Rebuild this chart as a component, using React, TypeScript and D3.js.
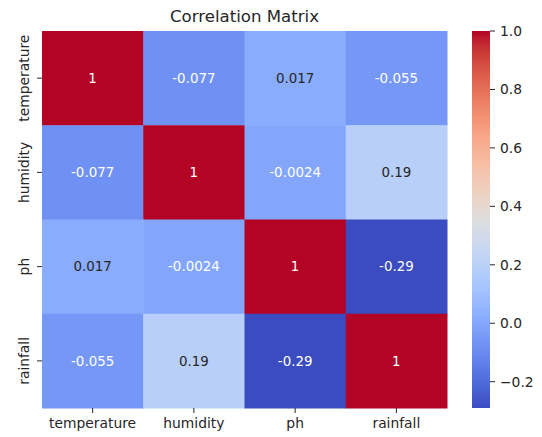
import React from "react";
import * as d3 from "d3";

const labels = ["temperature", "humidity", "ph", "rainfall"];
const rowTemperature = [1, -0.077, 0.017, -0.055];
const rowHumidity = [-0.077, 1, -0.0024, 0.19];
const rowPh = [0.017, -0.0024, 1, -0.29];
const rowRainfall = [-0.055, 0.19, -0.29, 1];
const matrix = [rowTemperature, rowHumidity, rowPh, rowRainfall];
const cbarTicks = [-0.2, 0, 0.2, 0.4, 0.6, 0.8, 1.0];
const title = "Correlation Matrix";

// coolwarm (Moreland) control points
const coolwarmStops: [number, number, number][] = [
  [59, 76, 192], [68, 90, 204], [77, 104, 215], [87, 117, 225], [98, 130, 234],
  [108, 142, 241], [119, 154, 247], [130, 165, 251], [141, 176, 254], [152, 185, 255],
  [163, 194, 255], [174, 201, 253], [184, 208, 249], [194, 213, 244], [204, 217, 238],
  [213, 219, 230], [221, 221, 221], [229, 216, 209], [236, 211, 197], [241, 204, 185],
  [245, 196, 173], [247, 187, 160], [247, 177, 148], [247, 166, 135], [244, 154, 123],
  [241, 141, 111], [236, 127, 99], [229, 112, 88], [222, 96, 77], [213, 80, 66],
  [203, 62, 56], [192, 40, 47], [180, 4, 38],
];
const coolwarm = d3.interpolateRgbBasis
  ? d3.piecewise(d3.interpolateRgb, coolwarmStops.map((c) => d3.rgb(c[0], c[1], c[2]).toString()))
  : (t: number) => "#000";

function luminance(color: string) {
  const c = d3.rgb(color);
  const f = (v: number) => {
    const s = v / 255;
    return s <= 0.03928 ? s / 12.92 : Math.pow((s + 0.055) / 1.055, 2.4);
  };
  return 0.2126 * f(c.r) + 0.7152 * f(c.g) + 0.0722 * f(c.b);
}

const W = 542, H = 437;
const hmLeft = 42, hmRight = 447, hmTop = 31, hmBottom = 408;
const cbLeft = 472, cbRight = 490;
const FONT = "DejaVu Sans, sans-serif";
const TXT = "#262626";

export default function App() {
  const flat = matrix.flat();
  const vmin = d3.min(flat) as number;
  const vmax = d3.max(flat) as number;
  const norm = d3.scaleLinear().domain([vmin, vmax]).range([0, 1]).clamp(true);
  const color = (v: number) => coolwarm(norm(v));

  const x = d3.scaleBand().domain(labels).range([hmLeft, hmRight]);
  const y = d3.scaleBand().domain(labels).range([hmTop, hmBottom]);
  const cy = d3.scaleLinear().domain([vmin, vmax]).range([hmBottom, hmTop]);

  const gradStops = d3.range(0, 1.0001, 0.02);

  return (
    <svg width={W} height={H} style={{ position: "absolute", left: 0, top: 0 }} fontFamily={FONT}>
      <rect width={W} height={H} fill="#fff" />
      <defs>
        <linearGradient id="cbgrad" x1="0" y1="1" x2="0" y2="0">
          {gradStops.map((t) => (
            <stop key={t} offset={t} stopColor={coolwarm(t)} />
          ))}
        </linearGradient>
      </defs>
      <text x={(hmLeft + hmRight) / 2} y={22} textAnchor="middle" fontSize={16.6} fill={TXT}>
        {title}
      </text>
      {matrix.map((row, i) =>
        row.map((v, j) => {
          const c = color(v);
          const dark = luminance(c) > 0.408;
          return (
            <g key={`${i}-${j}`}>
              <rect
                x={x(labels[j])}
                y={y(labels[i])}
                width={x.bandwidth() + 0.5}
                height={y.bandwidth() + 0.5}
                fill={c}
              />
              <text
                x={(x(labels[j]) as number) + x.bandwidth() / 2}
                y={(y(labels[i]) as number) + y.bandwidth() / 2}
                dy="0.36em"
                textAnchor="middle"
                fontSize={13.4}
                fill={dark ? TXT : "#ffffff"}
              >
                {String(v)}
              </text>
            </g>
          );
        })
      )}
      {labels.map((l) => {
        const cx = (x(l) as number) + x.bandwidth() / 2;
        return (
          <g key={"x" + l}>
            <line x1={cx} x2={cx} y1={hmBottom} y2={hmBottom + 5} stroke={TXT} strokeWidth={1} />
            <text x={cx} y={428} textAnchor="middle" fontSize={13.85} fill={TXT}>
              {l}
            </text>
          </g>
        );
      })}
      {labels.map((l) => {
        const cyy = (y(l) as number) + y.bandwidth() / 2;
        return (
          <g key={"y" + l}>
            <line x1={hmLeft - 5} x2={hmLeft} y1={cyy} y2={cyy} stroke={TXT} strokeWidth={1} />
            <text
              transform={`translate(29,${cyy}) rotate(-90)`}
              textAnchor="middle"
              fontSize={13.85}
              fill={TXT}
            >
              {l}
            </text>
          </g>
        );
      })}
      <rect x={cbLeft} y={hmTop} width={cbRight - cbLeft} height={hmBottom - hmTop} fill="url(#cbgrad)" />
      {cbarTicks.map((t) => (
        <g key={"c" + t}>
          <line x1={cbRight} x2={cbRight + 5} y1={cy(t)} y2={cy(t)} stroke={TXT} strokeWidth={1} />
          <text x={cbRight + 10} y={cy(t)} dy="0.36em" fontSize={13.85} fill={TXT}>
            {t < 0 ? "\u2212" + Math.abs(t).toFixed(1) : t.toFixed(1)}
          </text>
        </g>
      ))}
    </svg>
  );
}
